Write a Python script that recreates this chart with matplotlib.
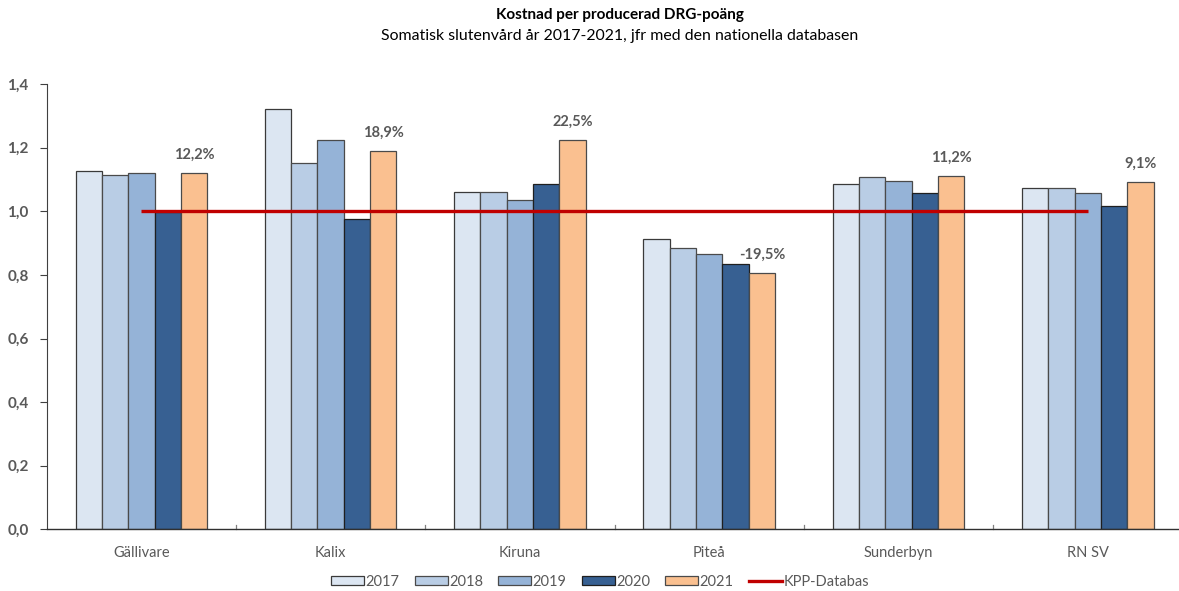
import matplotlib
matplotlib.use("Agg")
import matplotlib.pyplot as plt
from matplotlib.patches import Patch
from matplotlib.lines import Line2D
import numpy as np

plt.rcParams['font.family'] = ['Lato', 'DejaVu Sans']

categories = ["Gällivare", "Kalix", "Kiruna", "Piteå", "Sunderbyn", "RN SV"]
years = ["2017", "2018", "2019", "2020", "2021"]
v2017 = [1.126, 1.323, 1.062, 0.914, 1.087, 1.072]
v2018 = [1.113, 1.153, 1.062, 0.886, 1.108, 1.072]
v2019 = [1.120, 1.223, 1.035, 0.867, 1.095, 1.057]
v2020 = [0.999, 0.977, 1.087, 0.835, 1.057, 1.018]
v2021 = [1.122, 1.189, 1.225, 0.805, 1.112, 1.091]
kpp = [1.0, 1.0, 1.0, 1.0, 1.0, 1.0]
yticks = [0.0, 0.2, 0.4, 0.6, 0.8, 1.0, 1.2, 1.4]

series = [v2017, v2018, v2019, v2020, v2021]
colors = ["#DCE6F2", "#B9CDE5", "#95B3D7", "#376092", "#FAC090"]
edges = ["#3a3a3a", "#4a4a4a", "#4a4a4a", "#1f1f1f", "#4a4a4a"]
text_grey = "#595959"

fig = plt.figure(figsize=(11.79, 5.91), dpi=100)
W, H = 1179, 591
left, right = 46.7, 1182.5
bottom, top = 529.3, 84.1
ax = fig.add_axes([left / W, 1 - bottom / H, (right - left) / W, (bottom - top) / H])

x = np.arange(len(categories))
bw = 0.139
for j, (vals, c, ec) in enumerate(zip(series, colors, edges)):
    ax.bar(x + (j - 2) * bw, vals, width=bw, color=c, edgecolor=ec,
           linewidth=0.9, zorder=2)

ax.plot(x, kpp, color="#C00000", linewidth=2.4, zorder=3, solid_capstyle="butt")

for i, v in enumerate(v2021):
    pct = (v - 1.0) * 100
    lab = f"{pct:.1f}%".replace(".", ",")
    ax.text(x[i] + 2 * bw, v + 0.035, lab, ha="center", va="bottom",
            fontsize=10.5, fontweight="bold", color=text_grey)

ax.set_xlim(-0.5, 5.5)
ax.set_ylim(0, 1.4)
ax.set_yticks(yticks)
ax.set_yticklabels([f"{t:.1f}".replace(".", ",") for t in yticks],
                   fontsize=11, fontweight="bold", color=text_grey)
ax.tick_params(axis="y", direction="out", length=5, width=0.8, color="#404040", pad=8)

ax.set_xticks(x)
ax.set_xticklabels(categories, fontsize=10.5, color=text_grey)
ax.tick_params(axis="x", length=0, pad=12)
for b in np.arange(0.5, 5.0, 1.0):
    ax.plot([b, b], [0, 0.012], color="#808080", linewidth=0.9, clip_on=False, zorder=1)

for s in ["top", "right"]:
    ax.spines[s].set_visible(False)
ax.spines["left"].set_color("#404040")
ax.spines["bottom"].set_color("#303030")
ax.spines["left"].set_linewidth(0.8)
ax.spines["bottom"].set_linewidth(1.0)

fig.text(620 / W, 1 - 15 / H, "Kostnad per producerad DRG-poäng", ha="center", va="center",
         fontsize=11, fontweight="bold", color="black")
fig.text(620 / W, 1 - 36 / H, "Somatisk slutenvård år 2017-2021, jfr med den nationella databasen",
         ha="center", va="center", fontsize=11.4, color="black")

handles = [Patch(facecolor=c, edgecolor=ec, linewidth=0.9) for c, ec in zip(colors, edges)]
handles.append(Line2D([0], [0], color="#C00000", linewidth=2.4))
labels = years + ["KPP-Databas"]
fig.legend(handles, labels, loc="center", bbox_to_anchor=(600 / W, 1 - 582 / H), ncol=6,
           frameon=False, fontsize=10.5, handlelength=2.25, handleheight=0.55,
           handletextpad=0.1, columnspacing=1.05, labelcolor=text_grey)

fig.savefig("out.png", dpi=100)
